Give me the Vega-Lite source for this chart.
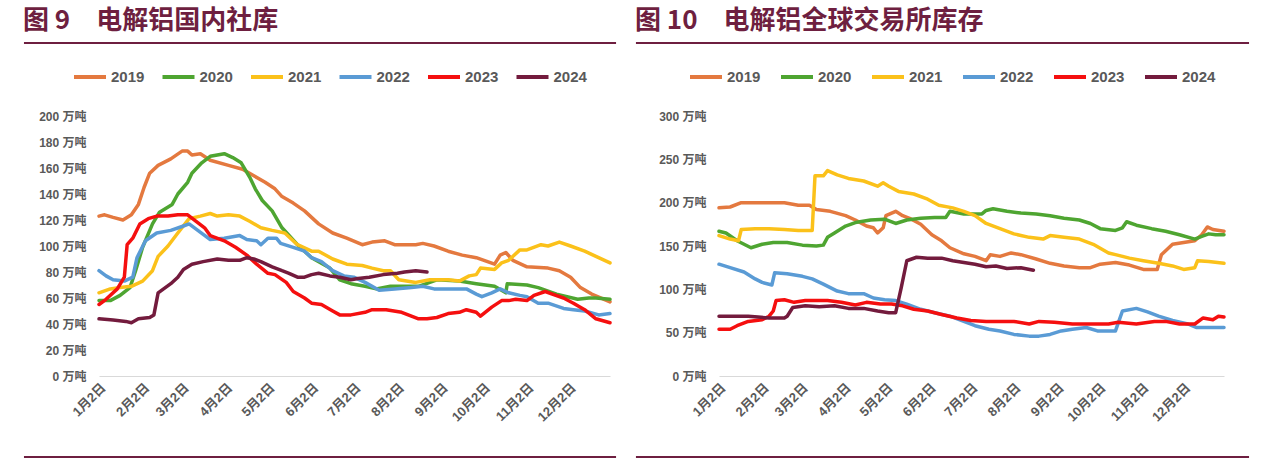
{
"$schema": "https://vega.github.io/schema/vega-lite/v6.json",
"background": "white",
"padding": {"left": 22, "top": 7, "right": 5, "bottom": 3},
"spacing": 16,
"resolve": {"scale": {"color": "independent"}, "legend": {"color": "independent"}},
"config": {
  "view": {"stroke": null},
  "axis": {"grid": false, "ticks": false, "domain": false, "labelColor": "#595959", "labelFontWeight": "bold", "labelFontSize": 12, "labelFont": "Liberation Sans, Noto Sans CJK SC", "labelOverlap": false},
  "legend": {"orient": "none", "direction": "horizontal", "title": null, "symbolType": "stroke", "symbolSize": 1024, "symbolStrokeWidth": 4, "labelFontSize": 15, "labelFontWeight": "bold", "labelColor": "#595959", "labelFont": "Liberation Sans", "labelOffset": 3, "padding": 0},
  "title": {"anchor": "start", "frame": "bounds", "fontSize": 26, "font": "Noto Sans CJK SC", "fontWeight": "bold", "color": "#6e1f40", "offset": 8}
},
"datasets": {
"domestic": [
{"yr":"2019","day":2,"val":123},{"yr":"2019","day":6,"val":124},{"yr":"2019","day":12,"val":122},{"yr":"2019","day":19,"val":120},{"yr":"2019","day":25,"val":124},{"yr":"2019","day":30,"val":132},{"yr":"2019","day":34,"val":145},{"yr":"2019","day":38,"val":156},{"yr":"2019","day":44,"val":162},{"yr":"2019","day":53,"val":167},{"yr":"2019","day":61,"val":173},{"yr":"2019","day":65,"val":173},{"yr":"2019","day":68,"val":170},{"yr":"2019","day":74,"val":171},{"yr":"2019","day":81,"val":166},{"yr":"2019","day":94,"val":162},{"yr":"2019","day":104,"val":159},{"yr":"2019","day":112,"val":154},{"yr":"2019","day":120,"val":149},{"yr":"2019","day":127,"val":144},{"yr":"2019","day":132,"val":138},{"yr":"2019","day":140,"val":133},{"yr":"2019","day":148,"val":127},{"yr":"2019","day":158,"val":117},{"yr":"2019","day":168,"val":110},{"yr":"2019","day":178,"val":106},{"yr":"2019","day":189,"val":101},{"yr":"2019","day":196,"val":103},{"yr":"2019","day":205,"val":104},{"yr":"2019","day":212,"val":101},{"yr":"2019","day":227,"val":101},{"yr":"2019","day":232,"val":102},{"yr":"2019","day":240,"val":100},{"yr":"2019","day":250,"val":96},{"yr":"2019","day":260,"val":93},{"yr":"2019","day":270,"val":91},{"yr":"2019","day":283,"val":86},{"yr":"2019","day":287,"val":93},{"yr":"2019","day":291,"val":95},{"yr":"2019","day":296,"val":89},{"yr":"2019","day":306,"val":84},{"yr":"2019","day":321,"val":83},{"yr":"2019","day":329,"val":81},{"yr":"2019","day":337,"val":76},{"yr":"2019","day":344,"val":68},{"yr":"2019","day":352,"val":63},{"yr":"2019","day":365,"val":57},
{"yr":"2020","day":2,"val":58},{"yr":"2020","day":10,"val":58},{"yr":"2020","day":17,"val":62},{"yr":"2020","day":24,"val":68},{"yr":"2020","day":28,"val":81},{"yr":"2020","day":33,"val":99},{"yr":"2020","day":40,"val":117},{"yr":"2020","day":45,"val":126},{"yr":"2020","day":54,"val":132},{"yr":"2020","day":58,"val":140},{"yr":"2020","day":65,"val":149},{"yr":"2020","day":68,"val":156},{"yr":"2020","day":75,"val":164},{"yr":"2020","day":81,"val":169},{"yr":"2020","day":86,"val":170},{"yr":"2020","day":91,"val":171},{"yr":"2020","day":97,"val":168},{"yr":"2020","day":103,"val":164},{"yr":"2020","day":109,"val":153},{"yr":"2020","day":113,"val":144},{"yr":"2020","day":118,"val":135},{"yr":"2020","day":125,"val":127},{"yr":"2020","day":132,"val":114},{"yr":"2020","day":143,"val":101},{"yr":"2020","day":153,"val":91},{"yr":"2020","day":166,"val":83},{"yr":"2020","day":173,"val":74},{"yr":"2020","day":181,"val":71},{"yr":"2020","day":191,"val":69},{"yr":"2020","day":199,"val":67},{"yr":"2020","day":209,"val":69},{"yr":"2020","day":229,"val":69},{"yr":"2020","day":242,"val":74},{"yr":"2020","day":258,"val":73},{"yr":"2020","day":270,"val":71},{"yr":"2020","day":283,"val":69},{"yr":"2020","day":291,"val":64},{"yr":"2020","day":292,"val":71},{"yr":"2020","day":306,"val":70},{"yr":"2020","day":314,"val":68},{"yr":"2020","day":327,"val":63},{"yr":"2020","day":342,"val":59},{"yr":"2020","day":350,"val":60},{"yr":"2020","day":355,"val":60},{"yr":"2020","day":365,"val":59},
{"yr":"2021","day":2,"val":64},{"yr":"2021","day":10,"val":67},{"yr":"2021","day":17,"val":68},{"yr":"2021","day":25,"val":69},{"yr":"2021","day":33,"val":73},{"yr":"2021","day":40,"val":81},{"yr":"2021","day":44,"val":92},{"yr":"2021","day":51,"val":100},{"yr":"2021","day":58,"val":110},{"yr":"2021","day":66,"val":121},{"yr":"2021","day":74,"val":123},{"yr":"2021","day":81,"val":125},{"yr":"2021","day":86,"val":123},{"yr":"2021","day":94,"val":124},{"yr":"2021","day":102,"val":123},{"yr":"2021","day":109,"val":119},{"yr":"2021","day":117,"val":114},{"yr":"2021","day":125,"val":112},{"yr":"2021","day":134,"val":110},{"yr":"2021","day":143,"val":101},{"yr":"2021","day":153,"val":96},{"yr":"2021","day":158,"val":96},{"yr":"2021","day":168,"val":90},{"yr":"2021","day":178,"val":86},{"yr":"2021","day":189,"val":85},{"yr":"2021","day":196,"val":83},{"yr":"2021","day":204,"val":81},{"yr":"2021","day":209,"val":81},{"yr":"2021","day":215,"val":74},{"yr":"2021","day":227,"val":72},{"yr":"2021","day":237,"val":74},{"yr":"2021","day":250,"val":74},{"yr":"2021","day":258,"val":73},{"yr":"2021","day":265,"val":77},{"yr":"2021","day":270,"val":78},{"yr":"2021","day":273,"val":83},{"yr":"2021","day":283,"val":82},{"yr":"2021","day":288,"val":87},{"yr":"2021","day":293,"val":89},{"yr":"2021","day":301,"val":97},{"yr":"2021","day":306,"val":97},{"yr":"2021","day":316,"val":101},{"yr":"2021","day":321,"val":100},{"yr":"2021","day":329,"val":103},{"yr":"2021","day":337,"val":100},{"yr":"2021","day":347,"val":96},{"yr":"2021","day":355,"val":92},{"yr":"2021","day":365,"val":87},
{"yr":"2022","day":2,"val":81},{"yr":"2022","day":7,"val":77},{"yr":"2022","day":12,"val":74},{"yr":"2022","day":20,"val":73},{"yr":"2022","day":26,"val":76},{"yr":"2022","day":29,"val":91},{"yr":"2022","day":35,"val":104},{"yr":"2022","day":43,"val":110},{"yr":"2022","day":53,"val":112},{"yr":"2022","day":61,"val":115},{"yr":"2022","day":66,"val":117},{"yr":"2022","day":71,"val":113},{"yr":"2022","day":76,"val":109},{"yr":"2022","day":81,"val":105},{"yr":"2022","day":91,"val":106},{"yr":"2022","day":102,"val":108},{"yr":"2022","day":107,"val":105},{"yr":"2022","day":114,"val":104},{"yr":"2022","day":117,"val":101},{"yr":"2022","day":122,"val":106},{"yr":"2022","day":128,"val":106},{"yr":"2022","day":131,"val":102},{"yr":"2022","day":140,"val":99},{"yr":"2022","day":148,"val":96},{"yr":"2022","day":153,"val":91},{"yr":"2022","day":160,"val":88},{"yr":"2022","day":168,"val":81},{"yr":"2022","day":176,"val":77},{"yr":"2022","day":183,"val":76},{"yr":"2022","day":191,"val":72},{"yr":"2022","day":201,"val":66},{"yr":"2022","day":212,"val":67},{"yr":"2022","day":224,"val":68},{"yr":"2022","day":232,"val":69},{"yr":"2022","day":240,"val":67},{"yr":"2022","day":250,"val":67},{"yr":"2022","day":263,"val":67},{"yr":"2022","day":270,"val":63},{"yr":"2022","day":274,"val":61},{"yr":"2022","day":281,"val":64},{"yr":"2022","day":287,"val":67},{"yr":"2022","day":293,"val":64},{"yr":"2022","day":301,"val":62},{"yr":"2022","day":306,"val":61},{"yr":"2022","day":314,"val":56},{"yr":"2022","day":321,"val":56},{"yr":"2022","day":332,"val":52},{"yr":"2022","day":339,"val":51},{"yr":"2022","day":347,"val":50},{"yr":"2022","day":357,"val":47},{"yr":"2022","day":365,"val":48},
{"yr":"2023","day":2,"val":55},{"yr":"2023","day":7,"val":59},{"yr":"2023","day":15,"val":67},{"yr":"2023","day":20,"val":76},{"yr":"2023","day":22,"val":101},{"yr":"2023","day":26,"val":106},{"yr":"2023","day":31,"val":117},{"yr":"2023","day":37,"val":121},{"yr":"2023","day":43,"val":123},{"yr":"2023","day":51,"val":123},{"yr":"2023","day":58,"val":124},{"yr":"2023","day":65,"val":124},{"yr":"2023","day":71,"val":119},{"yr":"2023","day":77,"val":114},{"yr":"2023","day":81,"val":108},{"yr":"2023","day":91,"val":104},{"yr":"2023","day":99,"val":99},{"yr":"2023","day":107,"val":93},{"yr":"2023","day":114,"val":86},{"yr":"2023","day":122,"val":79},{"yr":"2023","day":127,"val":78},{"yr":"2023","day":135,"val":72},{"yr":"2023","day":140,"val":65},{"yr":"2023","day":148,"val":60},{"yr":"2023","day":153,"val":56},{"yr":"2023","day":160,"val":55},{"yr":"2023","day":168,"val":50},{"yr":"2023","day":173,"val":47},{"yr":"2023","day":181,"val":47},{"yr":"2023","day":191,"val":49},{"yr":"2023","day":196,"val":51},{"yr":"2023","day":206,"val":51},{"yr":"2023","day":217,"val":49},{"yr":"2023","day":229,"val":44},{"yr":"2023","day":235,"val":44},{"yr":"2023","day":242,"val":45},{"yr":"2023","day":250,"val":48},{"yr":"2023","day":258,"val":49},{"yr":"2023","day":263,"val":51},{"yr":"2023","day":270,"val":49},{"yr":"2023","day":273,"val":46},{"yr":"2023","day":281,"val":53},{"yr":"2023","day":288,"val":58},{"yr":"2023","day":293,"val":58},{"yr":"2023","day":298,"val":59},{"yr":"2023","day":306,"val":58},{"yr":"2023","day":311,"val":62},{"yr":"2023","day":319,"val":65},{"yr":"2023","day":324,"val":63},{"yr":"2023","day":332,"val":60},{"yr":"2023","day":339,"val":56},{"yr":"2023","day":347,"val":51},{"yr":"2023","day":355,"val":44},{"yr":"2023","day":365,"val":41},
{"yr":"2024","day":2,"val":44},{"yr":"2024","day":12,"val":43},{"yr":"2024","day":21,"val":42},{"yr":"2024","day":25,"val":41},{"yr":"2024","day":30,"val":44},{"yr":"2024","day":38,"val":45},{"yr":"2024","day":41,"val":47},{"yr":"2024","day":44,"val":64},{"yr":"2024","day":53,"val":71},{"yr":"2024","day":58,"val":76},{"yr":"2024","day":62,"val":82},{"yr":"2024","day":68,"val":86},{"yr":"2024","day":76,"val":88},{"yr":"2024","day":86,"val":90},{"yr":"2024","day":94,"val":89},{"yr":"2024","day":102,"val":89},{"yr":"2024","day":107,"val":91},{"yr":"2024","day":112,"val":90},{"yr":"2024","day":117,"val":88},{"yr":"2024","day":125,"val":84},{"yr":"2024","day":132,"val":81},{"yr":"2024","day":137,"val":79},{"yr":"2024","day":143,"val":76},{"yr":"2024","day":148,"val":76},{"yr":"2024","day":153,"val":78},{"yr":"2024","day":158,"val":79},{"yr":"2024","day":166,"val":77},{"yr":"2024","day":173,"val":76},{"yr":"2024","day":181,"val":74},{"yr":"2024","day":186,"val":75},{"yr":"2024","day":194,"val":76},{"yr":"2024","day":204,"val":78},{"yr":"2024","day":214,"val":79},{"yr":"2024","day":219,"val":80},{"yr":"2024","day":227,"val":81},{"yr":"2024","day":235,"val":80}
],
"exchange": [
{"yr":"2019","day":2,"val":194},{"yr":"2019","day":10,"val":195},{"yr":"2019","day":18,"val":200},{"yr":"2019","day":28,"val":200},{"yr":"2019","day":38,"val":200},{"yr":"2019","day":49,"val":200},{"yr":"2019","day":59,"val":197},{"yr":"2019","day":67,"val":197},{"yr":"2019","day":72,"val":192},{"yr":"2019","day":82,"val":190},{"yr":"2019","day":93,"val":185},{"yr":"2019","day":100,"val":180},{"yr":"2019","day":108,"val":173},{"yr":"2019","day":113,"val":171},{"yr":"2019","day":116,"val":165},{"yr":"2019","day":120,"val":171},{"yr":"2019","day":122,"val":185},{"yr":"2019","day":129,"val":190},{"yr":"2019","day":134,"val":185},{"yr":"2019","day":139,"val":182},{"yr":"2019","day":147,"val":175},{"yr":"2019","day":155,"val":163},{"yr":"2019","day":162,"val":156},{"yr":"2019","day":168,"val":148},{"yr":"2019","day":178,"val":141},{"yr":"2019","day":186,"val":138},{"yr":"2019","day":194,"val":133},{"yr":"2019","day":197,"val":140},{"yr":"2019","day":204,"val":138},{"yr":"2019","day":212,"val":142},{"yr":"2019","day":219,"val":140},{"yr":"2019","day":230,"val":135},{"yr":"2019","day":240,"val":130},{"yr":"2019","day":250,"val":127},{"yr":"2019","day":261,"val":125},{"yr":"2019","day":269,"val":125},{"yr":"2019","day":276,"val":129},{"yr":"2019","day":287,"val":131},{"yr":"2019","day":297,"val":128},{"yr":"2019","day":307,"val":123},{"yr":"2019","day":317,"val":123},{"yr":"2019","day":320,"val":140},{"yr":"2019","day":328,"val":152},{"yr":"2019","day":336,"val":154},{"yr":"2019","day":344,"val":156},{"yr":"2019","day":349,"val":163},{"yr":"2019","day":353,"val":172},{"yr":"2019","day":357,"val":169},{"yr":"2019","day":365,"val":167},
{"yr":"2020","day":2,"val":167},{"yr":"2020","day":7,"val":165},{"yr":"2020","day":15,"val":156},{"yr":"2020","day":25,"val":148},{"yr":"2020","day":33,"val":152},{"yr":"2020","day":41,"val":154},{"yr":"2020","day":51,"val":154},{"yr":"2020","day":62,"val":151},{"yr":"2020","day":72,"val":150},{"yr":"2020","day":77,"val":151},{"yr":"2020","day":80,"val":160},{"yr":"2020","day":85,"val":165},{"yr":"2020","day":93,"val":173},{"yr":"2020","day":100,"val":177},{"yr":"2020","day":111,"val":180},{"yr":"2020","day":121,"val":181},{"yr":"2020","day":129,"val":176},{"yr":"2020","day":137,"val":180},{"yr":"2020","day":147,"val":182},{"yr":"2020","day":157,"val":183},{"yr":"2020","day":165,"val":183},{"yr":"2020","day":168,"val":190},{"yr":"2020","day":178,"val":187},{"yr":"2020","day":191,"val":187},{"yr":"2020","day":194,"val":191},{"yr":"2020","day":199,"val":193},{"yr":"2020","day":209,"val":190},{"yr":"2020","day":219,"val":188},{"yr":"2020","day":230,"val":187},{"yr":"2020","day":240,"val":185},{"yr":"2020","day":250,"val":182},{"yr":"2020","day":261,"val":180},{"yr":"2020","day":269,"val":176},{"yr":"2020","day":276,"val":170},{"yr":"2020","day":287,"val":168},{"yr":"2020","day":292,"val":171},{"yr":"2020","day":295,"val":178},{"yr":"2020","day":302,"val":174},{"yr":"2020","day":313,"val":170},{"yr":"2020","day":323,"val":167},{"yr":"2020","day":333,"val":163},{"yr":"2020","day":344,"val":158},{"yr":"2020","day":349,"val":161},{"yr":"2020","day":354,"val":164},{"yr":"2020","day":359,"val":163},{"yr":"2020","day":365,"val":163},
{"yr":"2021","day":2,"val":162},{"yr":"2021","day":10,"val":158},{"yr":"2021","day":16,"val":156},{"yr":"2021","day":18,"val":169},{"yr":"2021","day":28,"val":170},{"yr":"2021","day":38,"val":170},{"yr":"2021","day":49,"val":169},{"yr":"2021","day":59,"val":168},{"yr":"2021","day":69,"val":168},{"yr":"2021","day":71,"val":231},{"yr":"2021","day":77,"val":231},{"yr":"2021","day":80,"val":237},{"yr":"2021","day":87,"val":232},{"yr":"2021","day":95,"val":228},{"yr":"2021","day":106,"val":225},{"yr":"2021","day":116,"val":219},{"yr":"2021","day":120,"val":223},{"yr":"2021","day":124,"val":219},{"yr":"2021","day":131,"val":213},{"yr":"2021","day":142,"val":210},{"yr":"2021","day":152,"val":204},{"yr":"2021","day":160,"val":197},{"yr":"2021","day":170,"val":194},{"yr":"2021","day":178,"val":190},{"yr":"2021","day":186,"val":185},{"yr":"2021","day":194,"val":176},{"yr":"2021","day":204,"val":170},{"yr":"2021","day":214,"val":164},{"yr":"2021","day":225,"val":160},{"yr":"2021","day":235,"val":158},{"yr":"2021","day":240,"val":162},{"yr":"2021","day":250,"val":160},{"yr":"2021","day":261,"val":158},{"yr":"2021","day":271,"val":152},{"yr":"2021","day":282,"val":142},{"yr":"2021","day":287,"val":140},{"yr":"2021","day":297,"val":136},{"yr":"2021","day":307,"val":133},{"yr":"2021","day":318,"val":130},{"yr":"2021","day":328,"val":127},{"yr":"2021","day":336,"val":123},{"yr":"2021","day":344,"val":125},{"yr":"2021","day":346,"val":133},{"yr":"2021","day":354,"val":132},{"yr":"2021","day":365,"val":130},
{"yr":"2022","day":2,"val":129},{"yr":"2022","day":10,"val":125},{"yr":"2022","day":20,"val":120},{"yr":"2022","day":28,"val":112},{"yr":"2022","day":33,"val":108},{"yr":"2022","day":40,"val":105},{"yr":"2022","day":42,"val":119},{"yr":"2022","day":51,"val":118},{"yr":"2022","day":62,"val":115},{"yr":"2022","day":69,"val":112},{"yr":"2022","day":77,"val":106},{"yr":"2022","day":87,"val":98},{"yr":"2022","day":95,"val":95},{"yr":"2022","day":106,"val":95},{"yr":"2022","day":113,"val":90},{"yr":"2022","day":121,"val":88},{"yr":"2022","day":129,"val":87},{"yr":"2022","day":137,"val":83},{"yr":"2022","day":147,"val":77},{"yr":"2022","day":157,"val":73},{"yr":"2022","day":168,"val":69},{"yr":"2022","day":178,"val":63},{"yr":"2022","day":186,"val":58},{"yr":"2022","day":196,"val":54},{"yr":"2022","day":204,"val":52},{"yr":"2022","day":214,"val":48},{"yr":"2022","day":225,"val":46},{"yr":"2022","day":232,"val":46},{"yr":"2022","day":240,"val":48},{"yr":"2022","day":248,"val":52},{"yr":"2022","day":256,"val":54},{"yr":"2022","day":266,"val":56},{"yr":"2022","day":274,"val":52},{"yr":"2022","day":287,"val":52},{"yr":"2022","day":292,"val":75},{"yr":"2022","day":302,"val":78},{"yr":"2022","day":310,"val":74},{"yr":"2022","day":318,"val":69},{"yr":"2022","day":328,"val":64},{"yr":"2022","day":339,"val":60},{"yr":"2022","day":345,"val":56},{"yr":"2022","day":354,"val":56},{"yr":"2022","day":365,"val":56},
{"yr":"2023","day":2,"val":54},{"yr":"2023","day":10,"val":54},{"yr":"2023","day":15,"val":58},{"yr":"2023","day":23,"val":63},{"yr":"2023","day":33,"val":65},{"yr":"2023","day":38,"val":69},{"yr":"2023","day":41,"val":75},{"yr":"2023","day":43,"val":87},{"yr":"2023","day":49,"val":88},{"yr":"2023","day":56,"val":85},{"yr":"2023","day":64,"val":87},{"yr":"2023","day":74,"val":87},{"yr":"2023","day":80,"val":87},{"yr":"2023","day":90,"val":85},{"yr":"2023","day":100,"val":82},{"yr":"2023","day":108,"val":85},{"yr":"2023","day":118,"val":83},{"yr":"2023","day":126,"val":83},{"yr":"2023","day":134,"val":81},{"yr":"2023","day":142,"val":77},{"yr":"2023","day":152,"val":75},{"yr":"2023","day":162,"val":71},{"yr":"2023","day":173,"val":67},{"yr":"2023","day":183,"val":64},{"yr":"2023","day":194,"val":63},{"yr":"2023","day":204,"val":63},{"yr":"2023","day":214,"val":63},{"yr":"2023","day":225,"val":60},{"yr":"2023","day":232,"val":63},{"yr":"2023","day":243,"val":62},{"yr":"2023","day":256,"val":60},{"yr":"2023","day":269,"val":60},{"yr":"2023","day":282,"val":60},{"yr":"2023","day":289,"val":62},{"yr":"2023","day":302,"val":60},{"yr":"2023","day":315,"val":63},{"yr":"2023","day":323,"val":63},{"yr":"2023","day":333,"val":60},{"yr":"2023","day":344,"val":60},{"yr":"2023","day":350,"val":67},{"yr":"2023","day":357,"val":65},{"yr":"2023","day":361,"val":69},{"yr":"2023","day":365,"val":68},
{"yr":"2024","day":2,"val":69},{"yr":"2024","day":12,"val":69},{"yr":"2024","day":23,"val":69},{"yr":"2024","day":30,"val":68},{"yr":"2024","day":38,"val":67},{"yr":"2024","day":49,"val":67},{"yr":"2024","day":51,"val":69},{"yr":"2024","day":55,"val":79},{"yr":"2024","day":64,"val":81},{"yr":"2024","day":74,"val":80},{"yr":"2024","day":85,"val":81},{"yr":"2024","day":95,"val":78},{"yr":"2024","day":106,"val":78},{"yr":"2024","day":116,"val":75},{"yr":"2024","day":124,"val":73},{"yr":"2024","day":129,"val":73},{"yr":"2024","day":133,"val":102},{"yr":"2024","day":137,"val":133},{"yr":"2024","day":144,"val":137},{"yr":"2024","day":152,"val":136},{"yr":"2024","day":162,"val":136},{"yr":"2024","day":170,"val":133},{"yr":"2024","day":178,"val":131},{"yr":"2024","day":186,"val":129},{"yr":"2024","day":194,"val":126},{"yr":"2024","day":201,"val":127},{"yr":"2024","day":209,"val":124},{"yr":"2024","day":219,"val":125},{"yr":"2024","day":228,"val":122}
]
},
"hconcat": [
{
  "title": {"text": "图 9　电解铝国内社库"},
  "width": 511, "height": 260,
  "layer": [
    {
      "data": {"name": "domestic"},
      "mark": {"type": "line", "strokeWidth": 3.5, "strokeCap": "round", "strokeJoin": "round"},
      "encoding": {
        "x": {"field": "day", "type": "quantitative", "scale": {"domain": [2, 365], "nice": false, "zero": false},
              "axis": {"title": null, "values": [2,33,61,92,122,153,183,214,245,275,306,336], "tickCount": 12, "labelExpr": "(indexof([2,33,61,92,122,153,183,214,245,275,306,336], datum.value) + 1) + '月2日'", "labelAngle": -45, "labelPadding": 5, "labelFontSize": 13, "labelOverlap": false, "domain": true, "domainColor": "#d9d9d9", "domainWidth": 1}},
        "y": {"field": "val", "type": "quantitative", "scale": {"domain": [0, 200], "nice": false},
              "axis": {"title": null, "values": [0,20,40,60,80,100,120,140,160,180,200], "tickCount": 11, "labelExpr": "datum.value + ' 万吨'", "labelPadding": 13, "labelOverlap": false, "labelFlush": false}},
        "color": {"field": "yr", "type": "nominal",
                  "scale": {"domain": ["2019","2020","2021","2022","2023","2024"], "range": ["#E4793F","#4EA531","#FBC11A","#5A9BD5","#F50F0F","#731B3D"]},
                  "legend": {"legendX": -27, "legendY": -57, "columnPadding": 9.5}}
      }
    },
    {
      "data": {"values": [{}]},
      "mark": {"type": "rule", "color": "#6e1f40", "strokeWidth": 2},
      "encoding": {
        "x": {"datum": -51.3, "type": "quantitative", "scale": {"domain": [2, 365], "nice": false, "zero": false}},
        "x2": {"datum": 369.3},
        "y": {"datum": 256.2, "type": "quantitative", "scale": {"domain": [0, 200], "nice": false}}
      }
    },
    {
      "data": {"values": [{}]},
      "mark": {"type": "rule", "color": "#6e1f40", "strokeWidth": 2},
      "encoding": {
        "x": {"datum": -51.3, "type": "quantitative"},
        "x2": {"datum": 369.3},
        "y": {"datum": -62.3, "type": "quantitative"}
      }
    }
  ]
},
{
  "title": {"text": "图 10　电解铝全球交易所库存"},
  "width": 505, "height": 260,
  "layer": [
    {
      "data": {"name": "exchange"},
      "mark": {"type": "line", "strokeWidth": 3.5, "strokeCap": "round", "strokeJoin": "round"},
      "encoding": {
        "x": {"field": "day", "type": "quantitative", "scale": {"domain": [2, 365], "nice": false, "zero": false},
              "axis": {"title": null, "values": [2,33,61,92,122,153,183,214,245,275,306,336], "tickCount": 12, "labelExpr": "(indexof([2,33,61,92,122,153,183,214,245,275,306,336], datum.value) + 1) + '月2日'", "labelAngle": -45, "labelPadding": 5, "labelFontSize": 13, "labelOverlap": false, "domain": true, "domainColor": "#d9d9d9", "domainWidth": 1}},
        "y": {"field": "val", "type": "quantitative", "scale": {"domain": [0, 300], "nice": false},
              "axis": {"title": null, "values": [0,50,100,150,200,250,300], "tickCount": 7, "labelExpr": "datum.value + ' 万吨'", "labelPadding": 13, "labelOverlap": false, "labelFlush": false}},
        "color": {"field": "yr", "type": "nominal",
                  "scale": {"domain": ["2019","2020","2021","2022","2023","2024"], "range": ["#E4793F","#4EA531","#FBC11A","#5A9BD5","#F50F0F","#731B3D"]},
                  "legend": {"legendX": -31, "legendY": -57, "columnPadding": 12}}
      }
    },
    {
      "data": {"values": [{}]},
      "mark": {"type": "rule", "color": "#6e1f40", "strokeWidth": 2},
      "encoding": {
        "x": {"datum": -57.7, "type": "quantitative", "scale": {"domain": [2, 365], "nice": false, "zero": false}},
        "x2": {"datum": 383},
        "y": {"datum": 384.2, "type": "quantitative", "scale": {"domain": [0, 300], "nice": false}}
      }
    },
    {
      "data": {"values": [{}]},
      "mark": {"type": "rule", "color": "#6e1f40", "strokeWidth": 2},
      "encoding": {
        "x": {"datum": -57.7, "type": "quantitative"},
        "x2": {"datum": 383},
        "y": {"datum": -93.5, "type": "quantitative"}
      }
    }
  ]
}
]
}
